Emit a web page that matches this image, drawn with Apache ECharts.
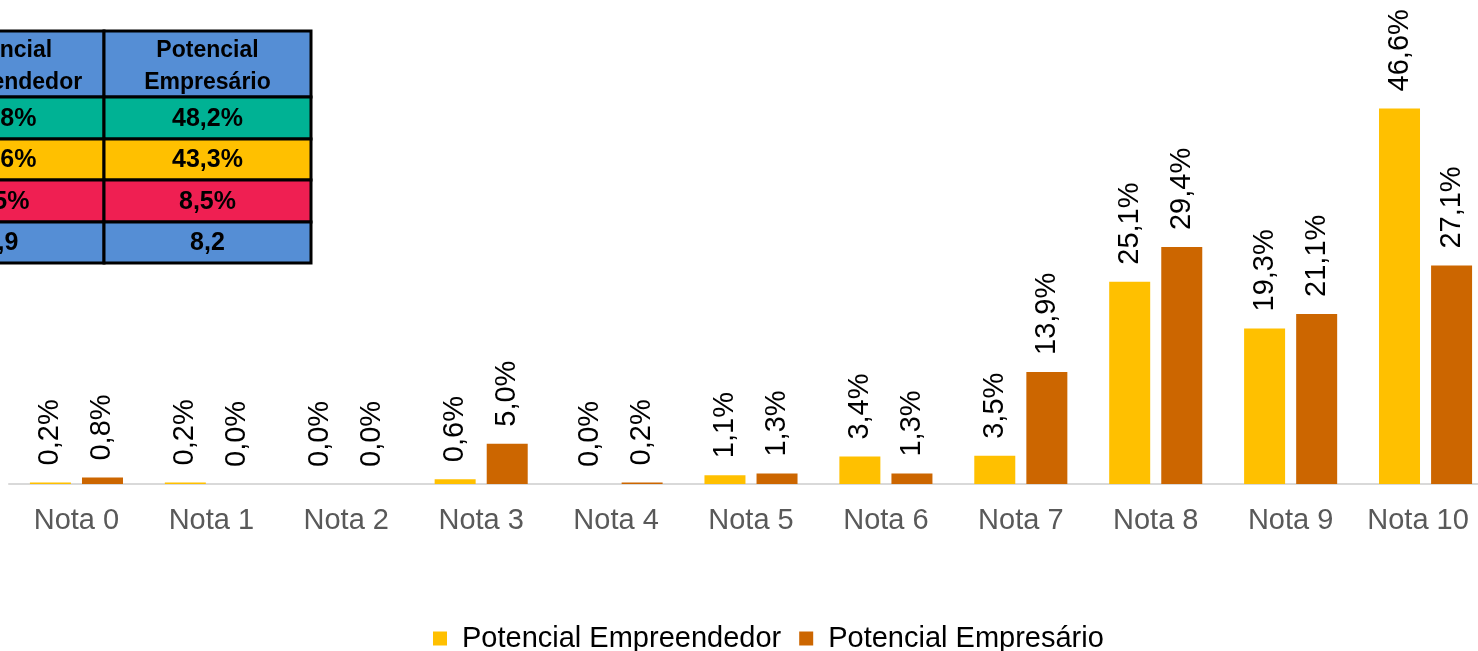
<!DOCTYPE html>
<html>
<head>
<meta charset="utf-8">
<script src="https://cdn.jsdelivr.net/npm/echarts@6/dist/echarts.min.js"></script>
<style>
html,body{margin:0;padding:0;background:#fff;overflow:hidden;}
#main{width:1493px;height:651px;}
</style>
</head>
<body>
<div id="main"></div>
<script>
var categorias = ['Nota 0','Nota 1','Nota 2','Nota 3','Nota 4','Nota 5','Nota 6','Nota 7','Nota 8','Nota 9','Nota 10'];
var empreendedor = [0.2, 0.2, 0.0, 0.6, 0.0, 1.1, 3.4, 3.5, 25.1, 19.3, 46.6];
var empresario = [0.8, 0.0, 0.0, 5.0, 0.2, 1.3, 1.3, 13.9, 29.4, 21.1, 27.1];

// tabela resumo (canto superior esquerdo, cortada no original)
var tabelaCabecalho = ['Potencial\nEmpreendedor', 'Potencial\nEmpresário'];
var tabelaEmpreendedor = ['65,8%', '28,6%', '5,5%', '8,9'];
var tabelaEmpresario = ['48,2%', '43,3%', '8,5%', '8,2'];
var tabelaCores = ['#00B294', '#FFC000', '#EF1F52', '#558ED5'];

function fmt(v){
	return v.toFixed(1).replace('.', ',') + '%';
}

// monta a tabela com elementos graphic
function montaTabela(){
	var els = [];
	var cols = [-102, 104, 311];
	var rows = [31, 97, 139, 180, 222, 263];
	var cores = ['#558ED5'].concat(tabelaCores);
	for(var r=0;r<5;r++){
		for(var c=0;c<2;c++){
			var txt = r==0 ? tabelaCabecalho[c] : (c==0 ? tabelaEmpreendedor[r-1] : tabelaEmpresario[r-1]);
			els.push({
				type:'rect',
				shape:{x:cols[c], y:rows[r], width:cols[c+1]-cols[c], height:rows[r+1]-rows[r]},
				style:{fill:cores[r], stroke:'#000', lineWidth:3},
				z:10
			});
			els.push({
				type:'text',
				x:(cols[c]+cols[c+1])/2,
				y:(rows[r]+rows[r+1])/2 + (r==0 ? 3 : 1),
				style:{
					text:txt,
					fill:'#000',
					font: r==0 ? 'bold 23px "Liberation Sans"' : 'bold 25px "Liberation Sans"',
					lineHeight: r==0 ? 32 : 26,
					align:'center',
					verticalAlign:'middle'
				},
				z:11
			});
		}
	}
	return els;
}

var rotulo = {
	show:true,
	position:'top',
	rotate:90,
	align:'left',
	verticalAlign:'middle',
	distance:17,
	fontSize:29,
	color:'#000',
	formatter:function(p){ return fmt(p.value); }
};

// ultimo rotulo do eixo fica um pouco deslocado para dentro
var categoriasEixo = categorias.map(function(c, i){
	if(i == categorias.length-1){
		return {value:c, textStyle:{padding:[0,15,0,0]}};
	}
	return c;
});

var myChart = echarts.init(document.getElementById('main'));
var option = {
	animation:false,
	textStyle:{fontFamily:'"Liberation Sans", Arial, sans-serif'},
	grid:{
		left:9,
		right:0,
		top:81,
		bottom:167,
		containLabel:false
	},
	legend:{
		data:['Potencial Empreendedor','Potencial Empresário'],
		top:619,
		left:428,
		itemWidth:14,
		itemHeight:14,
		itemGap:18,
		icon:'rect',
		textStyle:{fontSize:29, color:'#000', padding:[0,0,0,10]}
	},
	xAxis:{
		type:'category',
		data:categoriasEixo,
		axisLine:{lineStyle:{color:'#D9D9D9', width:2}},
		axisTick:{show:false},
		axisLabel:{fontSize:29, color:'#595959', margin:22}
	},
	yAxis:{
		type:'value',
		min:0,
		max:50,
		show:false,
		splitLine:{show:false}
	},
	series:[
		{
			name:'Potencial Empreendedor',
			type:'bar',
			data:empreendedor,
			barWidth:41,
			barGap:'27%',
			itemStyle:{color:'#FFC000'},
			label:rotulo
		},
		{
			name:'Potencial Empresário',
			type:'bar',
			data:empresario,
			barWidth:41,
			itemStyle:{color:'#CC6600'},
			label:rotulo
		}
	],
	graphic:montaTabela()
};
myChart.setOption(option);
</script>
</body>
</html>
